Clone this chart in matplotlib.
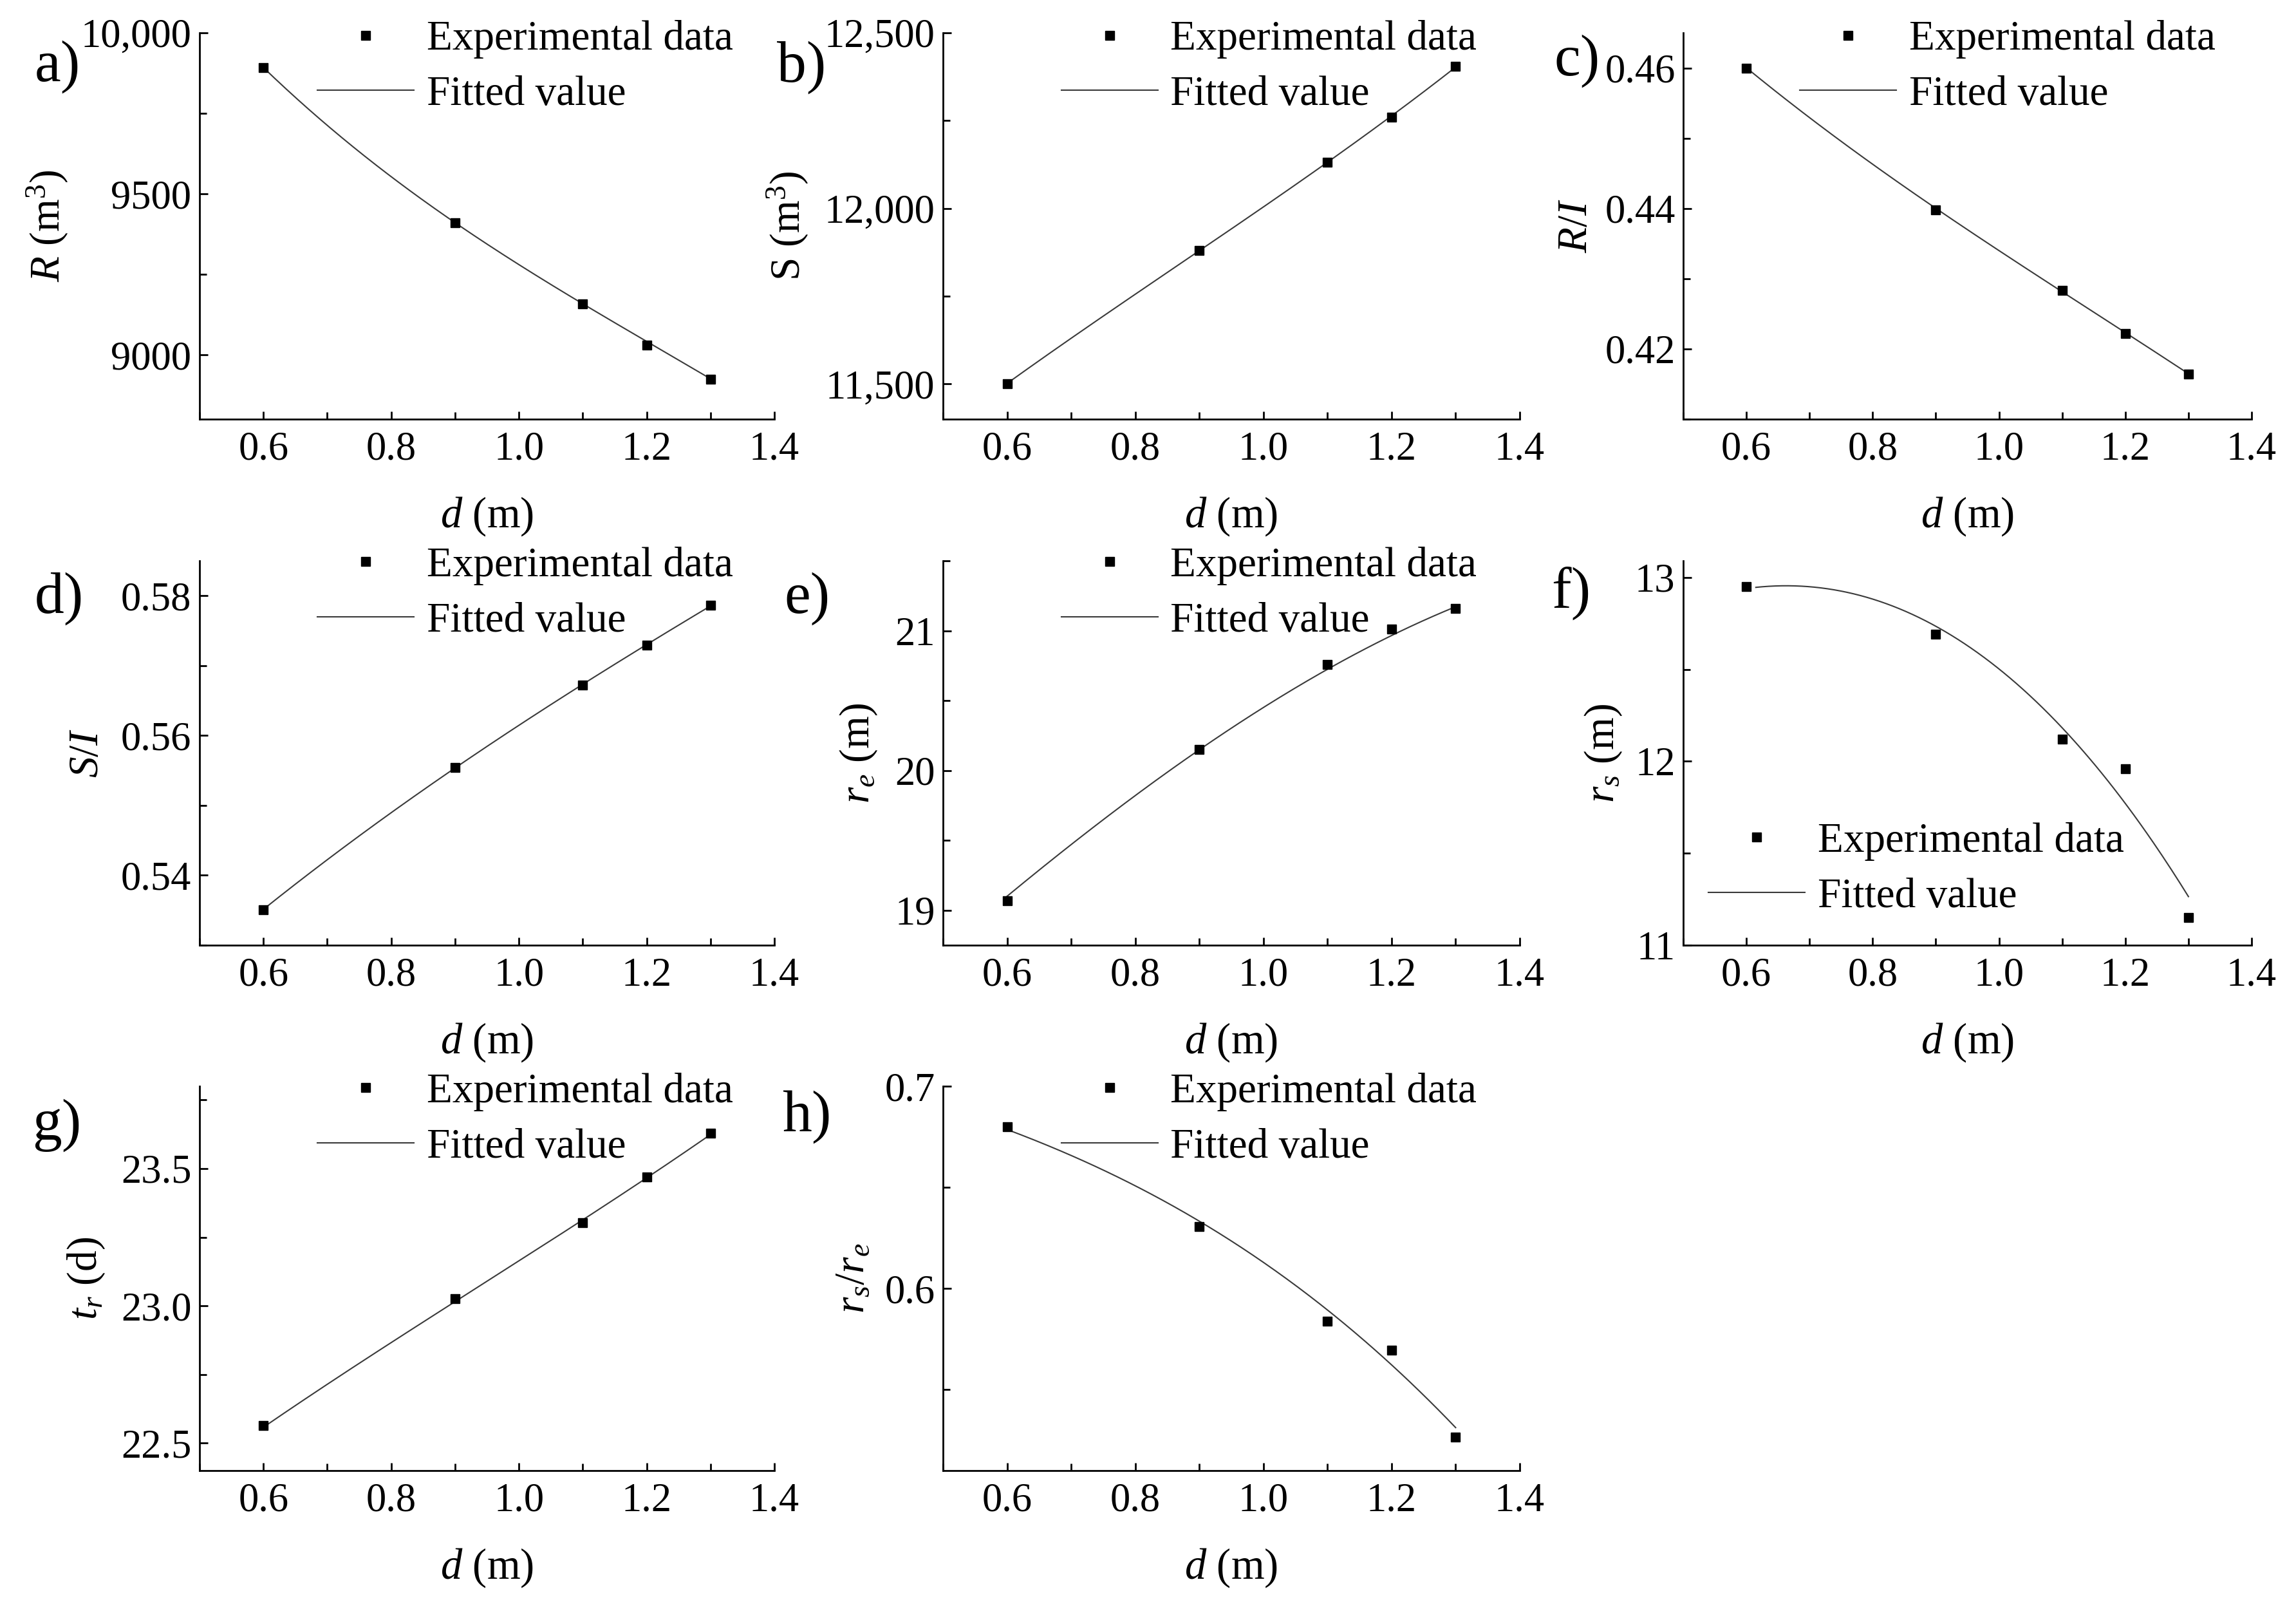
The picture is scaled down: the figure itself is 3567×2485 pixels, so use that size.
import numpy as np
import matplotlib.pyplot as plt
from matplotlib.ticker import FixedLocator, MultipleLocator

plt.rcParams['font.family'] = 'Liberation Serif'
plt.rcParams['mathtext.fontset'] = 'custom'
plt.rcParams['mathtext.rm'] = 'Liberation Serif'
plt.rcParams['mathtext.it'] = 'Liberation Serif:italic'

# experimental depths and the depths where the fitted curve was read
d = [0.6, 0.9, 1.1, 1.2, 1.3]
fit_d = [0.6, 0.7, 0.8, 0.9, 1.0, 1.1, 1.2, 1.3]
fit_d_f = [0.615, 0.7, 0.8, 0.9, 1.0, 1.1, 1.2, 1.3]

R = [9892, 9410, 9159, 9031, 8924]
R_fit = [9892, 9713, 9553, 9410, 9280, 9160, 9040, 8926]

S = [11500, 11881, 12132, 12260, 12405]
S_fit = [11502, 11630, 11755, 11880, 12005, 12132, 12262, 12403]

R_I = [0.4600, 0.4398, 0.4283, 0.4222, 0.4164]
R_I_fit = [0.4600, 0.4530, 0.4463, 0.4399, 0.4340, 0.4283, 0.4222, 0.4165]

S_I = [0.5351, 0.5554, 0.5672, 0.5729, 0.5786]
S_I_fit = [0.5352, 0.5421, 0.5489, 0.5555, 0.5615, 0.5673, 0.5729, 0.5786]

r_e = [19.07, 20.15, 20.76, 21.01, 21.16]
r_e_fit = [19.10, 19.47, 19.82, 20.15, 20.45, 20.72, 20.97, 21.17]

r_s = [12.95, 12.69, 12.12, 11.96, 11.15]
r_s_fit = [12.94, 12.96, 12.88, 12.73, 12.50, 12.18, 11.78, 11.26]

t_r = [22.563, 23.025, 23.304, 23.469, 23.628]
t_r_fit = [22.56, 22.71, 22.865, 23.02, 23.165, 23.31, 23.465, 23.625]

rs_re = [0.680, 0.6307, 0.5838, 0.5695, 0.5267]
rs_re_fit = [0.679, 0.665, 0.6505, 0.634, 0.6134, 0.589, 0.5617, 0.5316]

x_ticks = [0.6, 0.8, 1.0, 1.2, 1.4]
x_ticklabels = ['0.6', '0.8', '1.0', '1.2', '1.4']

panels = [
    dict(letter='a)', y=R, fx=fit_d, fy=R_fit, ylabel=r'$R$ (m$^3$)', ylim=(8800, 10000),
         ticks=[9000, 9500, 10000], labels=['9000', '9500', '10,000'], minor=250),
    dict(letter='b)', y=S, fx=fit_d, fy=S_fit, ylabel=r'S (m$^3$)', ylim=(11400, 12500),
         ticks=[11500, 12000, 12500], labels=['11,500', '12,000', '12,500'], minor=250),
    dict(letter='c)', y=R_I, fx=fit_d, fy=R_I_fit, ylabel=r'$R/I$', ylim=(0.41, 0.465),
         ticks=[0.42, 0.44, 0.46], labels=['0.42', '0.44', '0.46'], minor=0.01),
    dict(letter='d)', y=S_I, fx=fit_d, fy=S_I_fit, ylabel=r'$S/I$', ylim=(0.53, 0.585),
         ticks=[0.54, 0.56, 0.58], labels=['0.54', '0.56', '0.58'], minor=0.01),
    dict(letter='e)', y=r_e, fx=fit_d, fy=r_e_fit, ylabel=r'$r_e$ (m)', ylim=(18.75, 21.5),
         ticks=[19, 20, 21], labels=['19', '20', '21'], minor=0.5),
    dict(letter='f)', y=r_s, fx=fit_d_f, fy=r_s_fit, ylabel=r'$r_s$ (m)', ylim=(11.0, 13.09),
         ticks=[11, 12, 13], labels=['11', '12', '13'], minor=0.5),
    dict(letter='g)', y=t_r, fx=fit_d, fy=t_r_fit, ylabel=r'$t_r$ (d)', ylim=(22.4, 23.8),
         ticks=[22.5, 23.0, 23.5], labels=['22.5', '23.0', '23.5'], minor=0.25),
    dict(letter='h)', y=rs_re, fx=fit_d, fy=rs_re_fit, ylabel=r'$r_s/r_e$', ylim=(0.51, 0.70),
         ticks=[0.6, 0.7], labels=['0.6', '0.7'], minor=0.05),
]

# layout (pixels in a 3567 x 2485 canvas)
W, H = 3567, 2485
cols = [(310, 1203), (1465, 2361), (2615, 3498)]
rows = [(51, 651), (871, 1468), (1687, 2284)]
ylabel_x = [-0.265, -0.27, -0.188, -0.195, -0.146, -0.14, -0.197, -0.155]
letter_xy = [(-0.287, 0.913), (-0.288, 0.91), (-0.227, 0.928), (-0.287, 0.901),
             (-0.275, 0.901), (-0.232, 0.915), (-0.291, 0.898), (-0.279, 0.921)]
legend_xy = [(0.205, 0.911)] * 3 + [(0.205, 0.915)] * 2 + [(0.044, 0.198)] + [(0.205, 0.913)] * 2

fig = plt.figure(figsize=(W / 100, H / 100), dpi=100)

for i, p in enumerate(panels):
    c0, c1 = cols[i % 3]
    r0, r1 = rows[i // 3]
    ax = fig.add_axes([c0 / W, 1 - r1 / H, (c1 - c0) / W, (r1 - r0) / H])

    ax.plot(d, p['y'], 's', color='black', ms=10, label='Experimental data', zorder=3)
    coef = np.polyfit(p['fx'], p['fy'], 3)
    xs = np.linspace(p['fx'][0], p['fx'][-1], 200)
    ax.plot(xs, np.polyval(coef, xs), '-', color='#3a3a3a', lw=1.5, label='Fitted value')

    ax.set_xlim(0.5, 1.4)
    ax.set_ylim(*p['ylim'])
    ax.xaxis.set_major_locator(FixedLocator(x_ticks))
    ax.set_xticklabels(x_ticklabels)
    ax.xaxis.set_minor_locator(MultipleLocator(0.1))
    ax.yaxis.set_major_locator(FixedLocator(p['ticks']))
    ax.set_yticklabels(p['labels'])
    ax.yaxis.set_minor_locator(MultipleLocator(p['minor']))

    for side in ['top', 'right']:
        ax.spines[side].set_visible(False)
    for side in ['left', 'bottom']:
        ax.spines[side].set_linewidth(2.0)
    ax.tick_params(which='both', direction='in', width=2.0, labelsize=45)
    ax.tick_params(axis='x', which='major', pad=13)
    ax.tick_params(axis='y', which='major', pad=9)
    ax.tick_params(which='major', length=9)
    ax.tick_params(which='minor', length=8)

    ax.set_xlabel(r'$d$ (m)', fontsize=48, labelpad=30)
    ax.set_ylabel(p['ylabel'], fontsize=47)
    ax.yaxis.label.set_va('center')
    ax.yaxis.set_label_coords(ylabel_x[i], 0.5)

    lx, ly = letter_xy[i]
    ax.text(lx, ly, p['letter'], transform=ax.transAxes, fontsize=66,
            ha='left', va='center')

    ax.legend(loc='center left', bbox_to_anchor=legend_xy[i], frameon=False,
              fontsize=47, handlelength=2.3, handletextpad=0.3, labelspacing=0.4,
              borderpad=0, borderaxespad=0, numpoints=1)

fig.savefig('out.png', dpi=100, facecolor='white')
